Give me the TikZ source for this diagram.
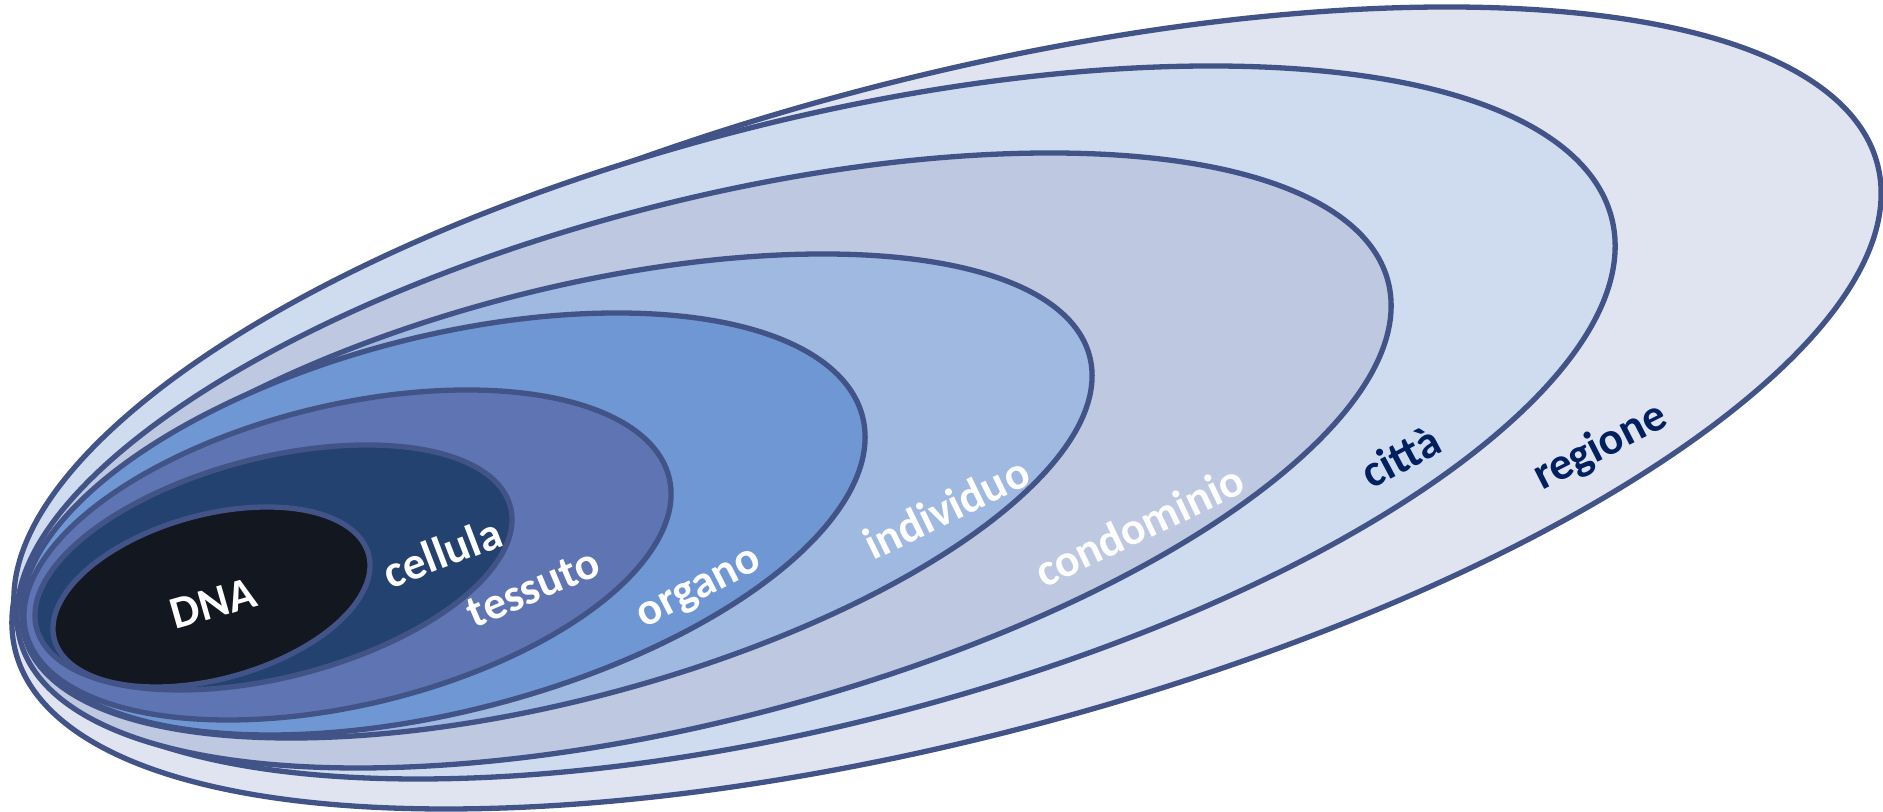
\documentclass[tikz,border=0pt]{standalone}
\usepackage{fontspec}
\setmainfont{Carlito}
\definecolor{edge}{RGB}{66,84,135}
\definecolor{cregione}{RGB}{224,228,240}
\definecolor{ccitta}{RGB}{207,220,239}
\definecolor{ccondominio}{RGB}{190,200,224}
\definecolor{cindividuo}{RGB}{160,185,225}
\definecolor{corgano}{RGB}{111,151,211}
\definecolor{ctessuto}{RGB}{95,116,178}
\definecolor{ccellula}{RGB}{35,66,112}
\definecolor{cdna}{RGB}{19,23,31}
\definecolor{navy}{RGB}{0,32,96}
% #1 fill, #2 left, #3 right, #4 top, #5 bottom, #6 x of top point (image px)
\newcommand{\ringE}[6]{%
  \pgfmathsetmacro\rcx{(#2+#3)/200}%
  \pgfmathsetmacro\rcy{(812-(#4+#5)/2)/100}%
  \pgfmathsetmacro\rhw{(#3-#2)/200}%
  \pgfmathsetmacro\rhh{(#5-#4)/200}%
  \pgfmathsetmacro\rxt{#6/100-\rcx}%
  \pgfmathsetmacro\raa{sqrt(\rhw*\rhw-\rxt*\rxt)}%
  \path[ring, fill=#1, cm={\raa,0,\rxt,\rhh,(\rcx,\rcy)}] (0,0) circle (1);%
}
\tikzset{
  ring/.style={draw=edge, line width=0.053cm},
  lab/.style={font=\bfseries\fontsize{13}{15}\selectfont, anchor=base, inner sep=0pt, text=white},
  labdark/.style={lab, text=navy}
}
\begin{document}
\begin{tikzpicture}
\useasboundingbox (0,0) rectangle (18.83,8.12);
\ringE{cregione}{12}{1881}{7}{809}{1447}
\ringE{ccitta}{14}{1615}{66}{779}{1211}
\ringE{ccondominio}{17}{1391}{153}{768}{1050}
\ringE{cindividuo}{22}{1092}{254}{738}{823}
\ringE{corgano}{22}{865}{313}{735}{617}
\ringE{ctessuto}{24}{671}{390}{720}{467}
\ringE{ccellula}{35}{512}{445}{690}{367}
\ringE{cdna}{53}{370}{507}{687}{267}
\node[lab, rotate=16] (dna) at (2.17,1.94) {DNA};
\node[lab, rotate=21] (cellula) at (4.48,2.45) {cellula};
\node[lab, rotate=23] (tessuto) at (5.39,2.11) {tessuto};
\node[lab, rotate=27] (organo) at (7.04,2.14) {organo};
\node[lab, rotate=26] (individuo) at (9.53,2.90) {individuo};
\node[lab, rotate=25.5] (condominio) at (11.46,2.72) {condominio};
\node[labdark, rotate=28] (citta) at (14.08,3.42) {città};
\node[labdark, rotate=27] (regione) at (16.06,3.54) {regione};
\end{tikzpicture}
\end{document}
